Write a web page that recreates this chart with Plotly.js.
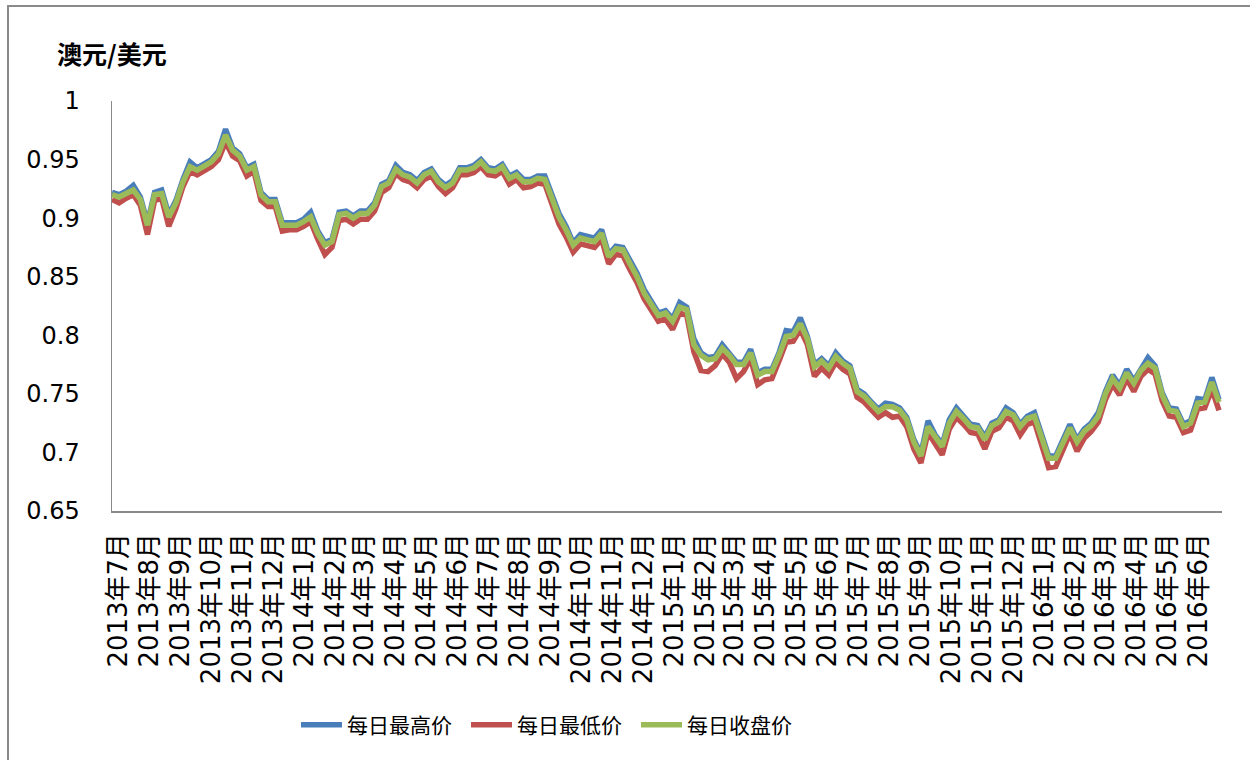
<!DOCTYPE html>
<html>
<head>
<meta charset="utf-8">
<script src="https://cdn.plot.ly/plotly-3.0.1.min.js"></script>
<style>
  html, body { margin: 0; padding: 0; background: #ffffff; }
  #chart { width: 1250px; height: 760px; position: absolute; left: 0; top: 0; }
  #frame { position: absolute; left: 7px; top: 5px; width: 1241px; height: 800px;
           border: 2px solid #8a8a8a; pointer-events: none; }
</style>
</head>
<body>
<div id="chart"></div>
<div id="frame"></div>
<script>
// ---- data (weekly samples, starting 2013-07-01) ----
const startDate = '2013-07-01';
const stepDays = 7;

const seriesNames = ['每日最高价', '每日最低价', '每日收盘价'];

const highVals = [
 0.922,0.920,0.923,0.928,0.918,0.896,0.922,0.924,0.903,0.915,
 0.933,0.948,0.943,0.946,0.950,0.957,0.976,0.960,0.955,0.943,
 0.946,0.922,0.916,0.916,0.896,0.896,0.896,0.899,0.905,0.889,
 0.879,0.882,0.905,0.906,0.902,0.906,0.906,0.913,0.929,0.932,
 0.945,0.939,0.937,0.932,0.939,0.942,0.933,0.928,0.932,0.943,
 0.943,0.945,0.950,0.943,0.942,0.946,0.936,0.939,0.933,0.933,
 0.936,0.936,0.920,0.904,0.893,0.879,0.886,0.884,0.883,0.890,
 0.869,0.876,0.875,0.864,0.853,0.839,0.829,0.819,0.821,0.814,
 0.828,0.824,0.797,0.785,0.781,0.782,0.792,0.785,0.777,0.777,
 0.788,0.768,0.771,0.771,0.785,0.804,0.803,0.815,0.799,0.775,
 0.780,0.774,0.785,0.778,0.774,0.754,0.750,0.743,0.737,0.742,
 0.741,0.738,0.730,0.711,0.699,0.727,0.715,0.707,0.728,0.738,
 0.731,0.724,0.723,0.713,0.725,0.728,0.738,0.734,0.724,0.731,
 0.734,0.715,0.697,0.697,0.711,0.724,0.711,0.720,0.725,0.734,
 0.752,0.766,0.757,0.771,0.761,0.772,0.781,0.774,0.751,0.738,
 0.737,0.724,0.727,0.746,0.745,0.764,0.745
];

const lowVals = [
 0.916,0.913,0.917,0.920,0.911,0.886,0.915,0.917,0.893,0.908,
 0.927,0.940,0.937,0.940,0.944,0.950,0.965,0.953,0.949,0.936,
 0.940,0.915,0.910,0.910,0.889,0.890,0.890,0.893,0.897,0.882,
 0.869,0.875,0.898,0.899,0.895,0.899,0.899,0.906,0.922,0.926,
 0.938,0.933,0.931,0.926,0.933,0.936,0.927,0.921,0.926,0.937,
 0.937,0.939,0.944,0.937,0.936,0.940,0.929,0.933,0.926,0.927,
 0.930,0.929,0.911,0.895,0.884,0.871,0.878,0.876,0.875,0.882,
 0.861,0.869,0.868,0.856,0.845,0.831,0.821,0.812,0.814,0.805,
 0.819,0.817,0.786,0.770,0.769,0.774,0.784,0.777,0.763,0.769,
 0.780,0.758,0.762,0.763,0.778,0.794,0.795,0.805,0.792,0.765,
 0.772,0.766,0.777,0.771,0.767,0.747,0.743,0.736,0.730,0.734,
 0.730,0.731,0.722,0.703,0.691,0.717,0.708,0.698,0.720,0.730,
 0.724,0.717,0.716,0.703,0.718,0.721,0.730,0.727,0.715,0.724,
 0.726,0.708,0.687,0.688,0.702,0.716,0.701,0.712,0.718,0.726,
 0.745,0.758,0.749,0.763,0.752,0.765,0.771,0.767,0.744,0.731,
 0.730,0.717,0.719,0.737,0.738,0.754,0.736
];

const closeVals = [
 0.920,0.918,0.921,0.924,0.916,0.894,0.920,0.921,0.901,0.913,
 0.931,0.944,0.941,0.944,0.948,0.955,0.971,0.958,0.953,0.941,
 0.944,0.920,0.914,0.914,0.894,0.894,0.894,0.897,0.901,0.887,
 0.877,0.880,0.903,0.904,0.900,0.904,0.904,0.911,0.927,0.930,
 0.942,0.937,0.935,0.930,0.937,0.940,0.931,0.926,0.930,0.941,
 0.941,0.943,0.948,0.941,0.940,0.944,0.934,0.937,0.931,0.931,
 0.934,0.933,0.917,0.901,0.890,0.877,0.883,0.881,0.880,0.887,
 0.867,0.874,0.873,0.861,0.850,0.836,0.826,0.817,0.819,0.812,
 0.824,0.822,0.792,0.783,0.779,0.780,0.789,0.783,0.775,0.775,
 0.785,0.766,0.769,0.769,0.783,0.799,0.800,0.810,0.797,0.773,
 0.778,0.772,0.782,0.776,0.772,0.752,0.748,0.741,0.735,0.739,
 0.739,0.736,0.728,0.709,0.697,0.722,0.713,0.705,0.725,0.735,
 0.729,0.722,0.721,0.711,0.723,0.726,0.735,0.732,0.722,0.729,
 0.731,0.713,0.695,0.695,0.708,0.721,0.709,0.718,0.723,0.731,
 0.750,0.763,0.755,0.768,0.759,0.770,0.776,0.772,0.749,0.736,
 0.735,0.722,0.725,0.742,0.743,0.760,0.743
];

const tickLabels = [
 '2013年7月','2013年8月','2013年9月','2013年10月','2013年11月','2013年12月',
 '2014年1月','2014年2月','2014年3月','2014年4月','2014年5月','2014年6月',
 '2014年7月','2014年8月','2014年9月','2014年10月','2014年11月','2014年12月',
 '2015年1月','2015年2月','2015年3月','2015年4月','2015年5月','2015年6月',
 '2015年7月','2015年8月','2015年9月','2015年10月','2015年11月','2015年12月',
 '2016年1月','2016年2月','2016年3月','2016年4月','2016年5月','2016年6月'
];

const yTitle = '澳元/美元';
const colors = ['#4a7ebb', '#c0504d', '#9bbb59'];

// ---- build x dates and tick positions ----
function addDays(iso, n) {
  const d = new Date(iso + 'T00:00:00Z');
  d.setUTCDate(d.getUTCDate() + n);
  return d.toISOString().slice(0, 10);
}
const dates = closeVals.map((_, i) => addDays(startDate, i * stepDays));
const tickVals = tickLabels.map(t => {
  const m = t.match(/(\d+)年(\d+)月/);
  const mm = String(m[2]).padStart(2, '0');
  return m[1] + '-' + mm + '-07';
});

const valueSets = [highVals, lowVals, closeVals];
const traces = valueSets.map((vals, i) => ({
  type: 'scatter', mode: 'lines', name: seriesNames[i],
  x: dates, y: vals,
  line: { color: colors[i], width: 5.5, shape: 'linear' },
  hoverinfo: 'skip'
}));

const baseFont = 'DejaVu Sans, Verdana, Noto Sans CJK SC, sans-serif';
const cjkFont = 'Noto Sans CJK SC, DejaVu Sans, sans-serif';

const layout = {
  width: 1250, height: 760,
  margin: { l: 112, r: 28, t: 101, b: 249 },
  paper_bgcolor: '#ffffff', plot_bgcolor: '#ffffff',
  showlegend: true,
  title: {
    text: '<b>' + yTitle + '</b>',
    font: { family: cjkFont, size: 25, color: '#000000' },
    x: 57 / 1250, xanchor: 'left', xref: 'container',
    y: 1 - 55 / 760, yanchor: 'middle', yref: 'container'
  },
  xaxis: {
    type: 'date',
    range: ['2013-07-01', '2016-06-30'],
    tickmode: 'array', tickvals: tickVals, ticktext: tickLabels,
    tickangle: -90,
    tickfont: { family: 'DejaVu Sans, Noto Sans CJK SC, sans-serif', size: 26, color: '#000000' },
    ticks: '', showgrid: false, zeroline: false,
    showline: true, linecolor: '#8a8a8a', linewidth: 1.5,
    ticklabelstandoff: 10
  },
  yaxis: {
    range: [0.65, 1], dtick: 0.05, tick0: 0.65,
    tickfont: { family: baseFont, size: 24, color: '#000000' },
    ticks: '', showgrid: false, zeroline: false,
    showline: true, linecolor: '#8a8a8a', linewidth: 1.5,
    ticklabelstandoff: 26
  },
  legend: {
    orientation: 'h',
    x: (296 - 112) / 1110, xanchor: 'left',
    y: (511 - 725) / 410, yanchor: 'middle',
    font: { family: cjkFont, size: 21, color: '#000000' },
    itemwidth: 41,
    entrywidth: 114, entrywidthmode: 'pixels',
    bgcolor: 'rgba(0,0,0,0)'
  }
};

Plotly.newPlot('chart', traces, layout, { staticPlot: true, displayModeBar: false });
</script>
</body>
</html>
